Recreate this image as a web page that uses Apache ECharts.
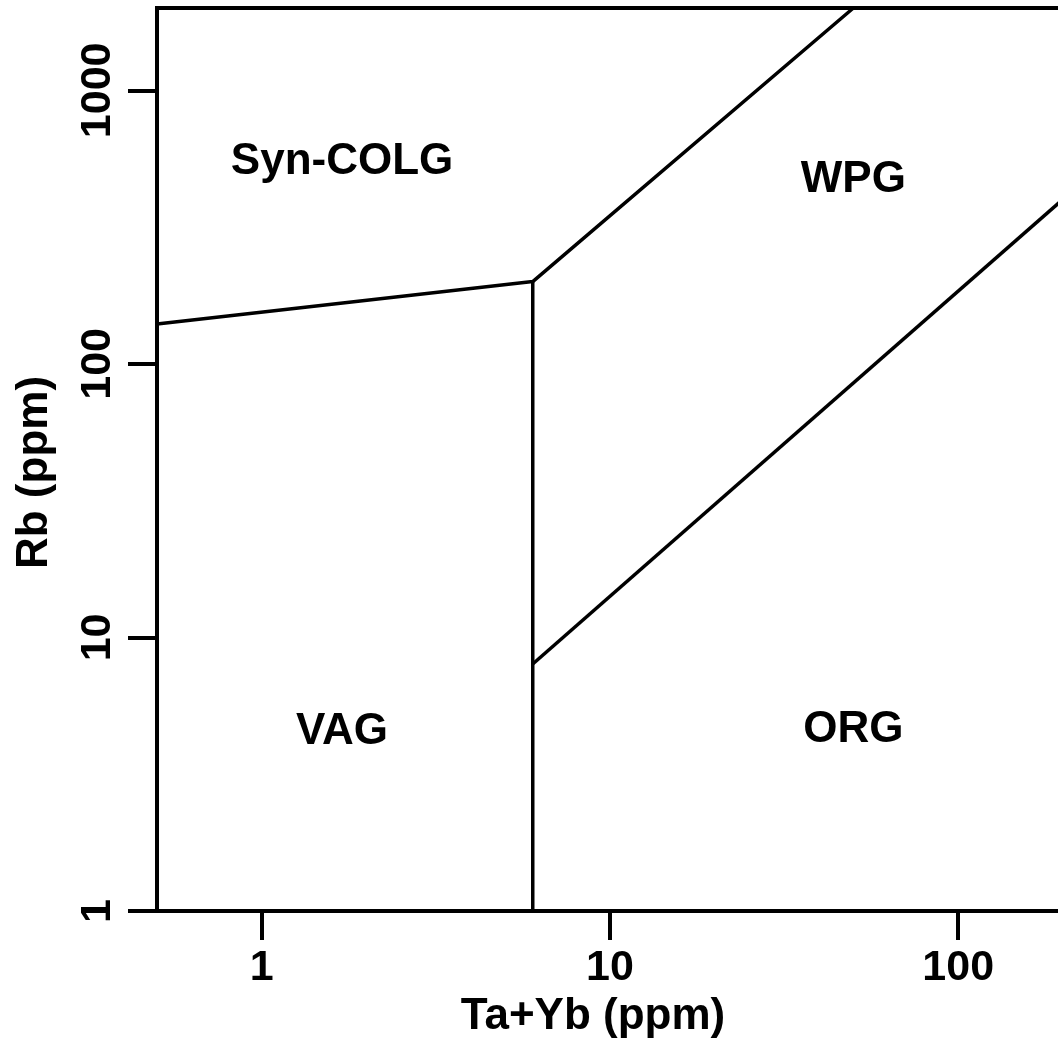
<!DOCTYPE html>
<html>
<head>
<meta charset="utf-8">
<title>Rb vs Ta+Yb</title>
<script src="https://cdn.jsdelivr.net/npm/echarts@6/dist/echarts.min.js"></script>
<style>
  html, body { margin: 0; padding: 0; background: #fff; }
  #main { width: 1058px; height: 1059px; }
</style>
</head>
<body>
<div id="main"></div>
<script>
// axis ranges and tick values
const xRange = [0.5, 200]
const yRange = [1, 2000]
const xTicks = [1, 10, 100]
const yTicks = [1, 10, 100, 1000]

// field boundaries [Ta+Yb, Rb]
const colgBoundary = [[0.5, 140], [6, 200], [50, 2000]]
const vagOrgBoundary = [[6, 1], [6, 200]]
const orgWpgBoundary = [[6, 8], [200, 400]]

// field names and where they sit
const fieldNames = ['Syn-COLG', 'WPG', 'VAG', 'ORG']
const fieldX = [1.7, 50, 1.7, 50]
const fieldY = [548, 470, 4.5, 4.6]

const FONT = 'Liberation Sans, Arial, Helvetica, sans-serif'
const black = '#000'

const chart = echarts.init(document.getElementById('main'), null, { renderer: 'canvas' })

const boundaryLine = (data) => ({
  type: 'line',
  data: data,
  symbol: 'none',
  silent: true,
  lineStyle: { color: black, width: 3.5 },
  animation: false,
})

const axisText = { fontFamily: FONT, fontWeight: 'bold', color: black }

const option = {
  backgroundColor: '#fff',
  animation: false,
  grid: {
    left: 157,
    top: 8,
    bottom: 148,
    right: -5,
    show: true,
    borderColor: black,
    borderWidth: 4,
    containLabel: false,
    outerBoundsMode: 'none',
  },
  xAxis: {
    type: 'log',
    logBase: 10,
    min: xRange[0],
    max: xRange[1],
    axisLine: { show: true, onZero: false, lineStyle: { color: black, width: 4 } },
    axisTick: { show: true, length: 29, customValues: xTicks, lineStyle: { color: black, width: 4 } },
    axisLabel: Object.assign({
      customValues: xTicks,
      fontSize: 43,
      margin: 36,
      formatter: (v) => String(Math.round(v)),
    }, axisText),
    splitLine: { show: false },
    name: 'Ta+Yb (ppm)',
    nameLocation: 'middle',
    nameGap: 84,
    nameTextStyle: Object.assign({ fontSize: 44, padding: [0, 34, 0, 0] }, axisText),
  },
  yAxis: {
    type: 'log',
    logBase: 10,
    min: yRange[0],
    max: yRange[1],
    axisLine: { show: true, onZero: false, lineStyle: { color: black, width: 4 } },
    axisTick: { show: true, length: 29, customValues: yTicks, lineStyle: { color: black, width: 4 } },
    axisLabel: Object.assign({
      customValues: yTicks,
      fontSize: 43,
      margin: 37,
      rotate: 90,
      formatter: (v) => String(Math.round(v)),
    }, axisText),
    splitLine: { show: false },
    name: 'Rb (ppm)',
    nameLocation: 'middle',
    nameGap: 100,
    nameTextStyle: Object.assign({ fontSize: 44, padding: [0, 26, 0, 0] }, axisText),
  },
  series: [
    boundaryLine(colgBoundary),
    boundaryLine(vagOrgBoundary),
    boundaryLine(orgWpgBoundary),
    {
      type: 'scatter',
      silent: true,
      symbolSize: 1,
      itemStyle: { color: '#fff', opacity: 1 },
      data: fieldNames.map((n, i) => ({ name: n, value: [fieldX[i], fieldY[i]] })),
      label: {
        show: true,
        position: 'inside',
        formatter: '{b}',
        fontSize: 44,
        fontFamily: FONT,
        fontWeight: 'bold',
        color: black,
        textBorderWidth: 0,
      },
    },
  ],
}

chart.setOption(option)
</script>
</body>
</html>
